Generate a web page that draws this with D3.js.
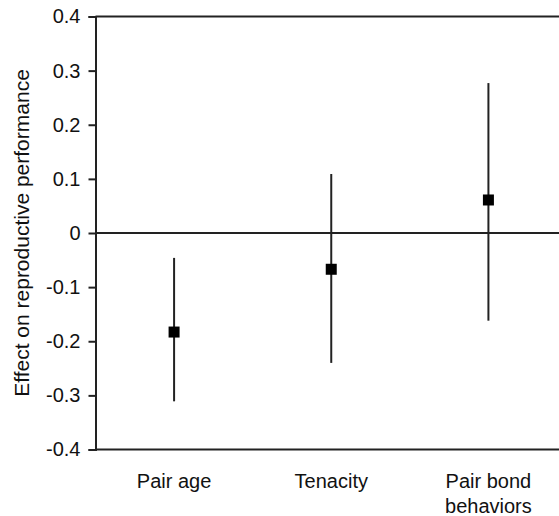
<!DOCTYPE html>
<html>
<head>
    <meta charset="utf-8">
    <script type="text/javascript" src="https://d3js.org/d3.v7.min.js"></script>
    <style>
        body { margin: 0; background: #fff; }
        text { font-family: "Liberation Sans", Arial, sans-serif; fill: #111; }
    </style>
</head>
<body>
<div class="viz"></div>
<script type="text/javascript">

    // estimates and their interval ends
    var categories = [["Pair age"], ["Tenacity"], ["Pair bond", "behaviors"]];
    var estimates = [-0.183, -0.067, 0.061];
    var lower = [-0.311, -0.240, -0.162];
    var upper = [-0.046, 0.109, 0.277];
    var yTicks = [-0.4, -0.3, -0.2, -0.1, 0, 0.1, 0.2, 0.3, 0.4];
    var yTitle = "Effect on reproductive performance";

    var width = 559, height = 516;
    // note: "top" is taken by window.top, so use plot* names
    var plotLeft = 95.5, plotTop = 16.5, plotBottom = 449.5, plotRight = 567;

    var svg = d3.select('.viz')
            .append('svg')
            .attr('width', width)
            .attr('height', height)
            .style('display', 'block');

    var y = d3.scaleLinear().domain([-0.4, 0.4]).range([plotBottom, plotTop]);
    var x = d3.scaleBand().domain(d3.range(categories.length)).range([plotLeft, plotRight]);

    // plain hyphen for negatives, bare 0 at zero
    var fmt = function(d){ return d === 0 ? '0' : d3.format('.1f')(d).replace('\u2212', '-'); };

    // y axis
    var yAxis = svg.append('g')
            .attr('transform', 'translate(' + plotLeft + ',0)')
            .call(d3.axisLeft(y).tickValues(yTicks).tickFormat(fmt).tickSize(7).tickPadding(8));
    yAxis.select('.domain').attr('stroke', '#222').attr('stroke-width', 2);
    yAxis.selectAll('.tick line').attr('stroke', '#222').attr('stroke-width', 2);
    yAxis.selectAll('.tick text')
            .style('font-size', '20px')
            .style('font-family', '"Liberation Sans", Arial, sans-serif')
            .attr('fill', '#111');

    // frame: top, bottom and zero lines
    [0.4, -0.4, 0].forEach(function(v){
        svg.append('line')
            .attr('x1', plotLeft).attr('x2', width)
            .attr('y1', y(v)).attr('y2', y(v))
            .attr('stroke', '#222').attr('stroke-width', 2);
    });

    // error bars
    svg.selectAll('line.err')
            .data(estimates)
            .enter().append('line')
            .attr('class', 'err')
            .attr('x1', function(d, i){ return x(i) + x.bandwidth() / 2; })
            .attr('x2', function(d, i){ return x(i) + x.bandwidth() / 2; })
            .attr('y1', function(d, i){ return y(lower[i]); })
            .attr('y2', function(d, i){ return y(upper[i]); })
            .attr('stroke', '#222').attr('stroke-width', 2);

    // point estimates
    var s = 11;
    svg.selectAll('rect.pt')
            .data(estimates)
            .enter().append('rect')
            .attr('class', 'pt')
            .attr('x', function(d, i){ return x(i) + x.bandwidth() / 2 - s / 2; })
            .attr('y', function(d){ return y(d) - s / 2; })
            .attr('width', s).attr('height', s)
            .attr('fill', '#000');

    // category labels
    var cat = svg.selectAll('text.cat')
            .data(categories)
            .enter().append('text')
            .attr('class', 'cat')
            .attr('text-anchor', 'middle')
            .style('font-size', '20px')
            .attr('transform', function(d, i){ return 'translate(' + (x(i) + x.bandwidth() / 2) + ',' + (plotBottom + 38) + ')'; });
    cat.selectAll('tspan')
            .data(function(d){ return d; })
            .enter().append('tspan')
            .attr('x', 0)
            .attr('y', function(d, j){ return j * 25; })
            .text(function(d){ return d; });

    // y axis title
    svg.append('text')
            .attr('transform', 'translate(29,' + ((plotTop + plotBottom) / 2) + ') rotate(-90)')
            .attr('text-anchor', 'middle')
            .style('font-size', '21px')
            .text(yTitle);

</script>
</body>
</html>
